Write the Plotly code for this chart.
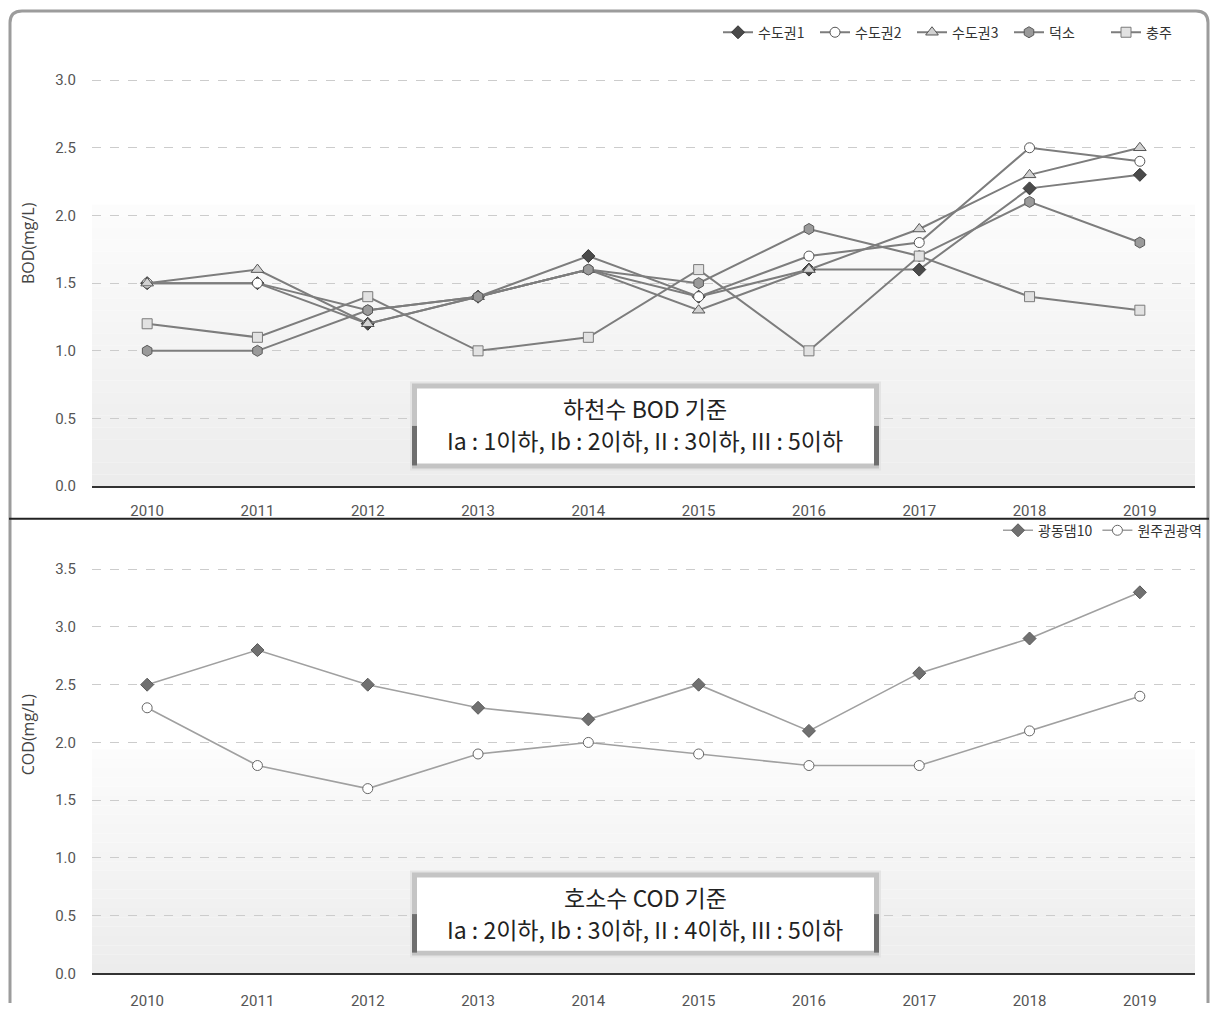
import plotly.graph_objects as go

# ---- data -------------------------------------------------------------
years = [2010, 2011, 2012, 2013, 2014, 2015, 2016, 2017, 2018, 2019]

# river water BOD (mg/L)
bod_sudo1 = [1.5, 1.5, 1.2, 1.4, 1.7, 1.4, 1.6, 1.6, 2.2, 2.3]
bod_sudo2 = [1.5, 1.5, 1.3, 1.4, 1.6, 1.4, 1.7, 1.8, 2.5, 2.4]
bod_sudo3 = [1.5, 1.6, 1.2, 1.4, 1.6, 1.3, 1.6, 1.9, 2.3, 2.5]
bod_deokso = [1.0, 1.0, 1.3, 1.4, 1.6, 1.5, 1.9, 1.7, 2.1, 1.8]
bod_chungju = [1.2, 1.1, 1.4, 1.0, 1.1, 1.6, 1.0, 1.7, 1.4, 1.3]

# lake water COD (mg/L)
cod_gwangdong = [2.5, 2.8, 2.5, 2.3, 2.2, 2.5, 2.1, 2.6, 2.9, 3.3]
cod_wonju = [2.3, 1.8, 1.6, 1.9, 2.0, 1.9, 1.8, 1.8, 2.1, 2.4]

bod_ticks = [0.0, 0.5, 1.0, 1.5, 2.0, 2.5, 3.0]
cod_ticks = [0.0, 0.5, 1.0, 1.5, 2.0, 2.5, 3.0, 3.5]

# ---- page geometry (pixels -> paper) ----------------------------------
W, H = 1214, 1014


def px(x):
    return x / W


def py(y):
    return 1 - y / H


FONT = "Roboto, Noto Sans CJK KR, sans-serif"
KFONT = "Noto Sans CJK KR, sans-serif"
LINE = "#7d7d7d"

fig = go.Figure()


def add_series(x, y, name, symbol, fill, outline, xa, ya, legend, lcolor, lwidth, size=10):
    fig.add_trace(go.Scatter(
        x=x, y=y, name=name, mode="lines+markers",
        xaxis=xa, yaxis=ya, legend=legend, cliponaxis=False,
        line=dict(color=lcolor, width=lwidth),
        marker=dict(symbol=symbol, size=size, color=fill,
                    line=dict(color=outline, width=1)),
    ))


add_series(years, bod_sudo1, "수도권1", "diamond", "#4a4a4a", "#333333", "x", "y", "legend", LINE, 2)
add_series(years, bod_sudo2, "수도권2", "circle", "#ffffff", "#555555", "x", "y", "legend", LINE, 2)
add_series(years, bod_sudo3, "수도권3", "triangle-up", "#d2d2d2", "#555555", "x", "y", "legend", LINE, 2, 11)
add_series(years, bod_deokso, "덕소", "hexagon", "#9a9a9a", "#5a5a5a", "x", "y", "legend", LINE, 2, 11)
add_series(years, bod_chungju, "충주", "square", "#e2e2e2", "#7a7a7a", "x", "y", "legend", LINE, 2)

add_series(years, cod_gwangdong, "광동댐10", "diamond", "#707070", "#5a5a5a", "x2", "y2", "legend2", "#a0a0a0", 1.6)
add_series(years, cod_wonju, "원주권광역", "circle", "#ffffff", "#666666", "x2", "y2", "legend2", "#a0a0a0", 1.6)

# ---- axes ---------------------------------------------------------------
top_unit = (489 - 78) / 3.0
bot_unit = (982 - 573) / 3.5
top_max, bot_max = 3.05, 3.55

xcommon = dict(
    range=[2009.5, 2019.5], tickvals=years, ticktext=[str(v) for v in years],
    showgrid=False, zeroline=False, showline=True, linecolor="#333333", linewidth=2,
    ticks="", tickfont=dict(family=FONT, size=15, color="#555555"),
    domain=[px(92), px(1195)],
)
ycommon = dict(
    showgrid=True, gridcolor="#cccccc", griddash="dash", gridwidth=1,
    zeroline=False, showline=False, ticks="",
    tickfont=dict(family=FONT, size=15, color="#555555"),
    ticklabelstandoff=15,
)

fig.update_layout(
    xaxis=dict(**xcommon, anchor="y", ticklabelstandoff=10),
    yaxis=dict(**ycommon, anchor="x", range=[0, top_max],
               tickvals=bod_ticks, ticktext=[f"{v:.1f}" for v in bod_ticks],
               domain=[py(489), py(489 - top_max * top_unit)]),
    xaxis2=dict(**xcommon, anchor="y2", ticklabelstandoff=13),
    yaxis2=dict(**ycommon, anchor="x2", range=[0, bot_max],
                tickvals=cod_ticks, ticktext=[f"{v:.1f}" for v in cod_ticks],
                domain=[py(982), py(982 - bot_max * bot_unit)]),
)

shapes = []


# soft grey gradient band behind the lower part of each plot
def band(yref, top_val, steps=24, c_top=252, c_bot=236):
    for i in range(steps):
        y1 = top_val * (1 - i / steps)
        y0 = top_val * (1 - (i + 1) / steps)
        g = round(c_top + (c_bot - c_top) * (i + 0.5) / steps)
        shapes.append(dict(type="rect", xref=yref.replace("y", "x") + " domain", yref=yref,
                           x0=0, x1=1, y0=y0, y1=y1, layer="below",
                           fillcolor=f"rgb({g},{g},{g})", line=dict(width=0)))


band("y", 2.08)
band("y2", 1.94)

# outer rounded frame (kept inside the page)
r = 12
frame = (f"M {px(10)},{py(H - 2)} L {px(10)},{py(8 + r)} "
         f"Q {px(10)},{py(8)} {px(10 + r)},{py(8)} "
         f"L {px(1208 - r)},{py(8)} Q {px(1208)},{py(8)} {px(1208)},{py(8 + r)} "
         f"L {px(1208)},{py(H - 2)}")
shapes.append(dict(type="path", xref="paper", yref="paper", path=frame,
                   line=dict(color="#9c9c9c", width=3)))

# divider between the two panels
shapes.append(dict(type="line", xref="paper", yref="paper",
                   x0=px(9), x1=px(1209), y0=py(522), y1=py(522),
                   line=dict(color="#222222", width=2)))


# criteria boxes with a shadowed frame
def criteria_box(x0, y0, x1, y1):
    shapes.append(dict(type="rect", xref="paper", yref="paper",
                       x0=px(x0 - 2), x1=px(x1 + 2), y0=py(y0 - 2), y1=py(y1 + 2),
                       fillcolor="#e4e4e4", line=dict(width=0)))
    shapes.append(dict(type="rect", xref="paper", yref="paper",
                       x0=px(x0), x1=px(x1), y0=py(y0), y1=py(y1),
                       fillcolor="#c4c4c4", line=dict(width=0)))
    mid = (y0 + y1) / 2
    for xa, xb in ((x0, x0 + 5), (x1 - 5, x1)):
        shapes.append(dict(type="rect", xref="paper", yref="paper",
                           x0=px(xa), x1=px(xb), y0=py(mid), y1=py(y1 - 3),
                           fillcolor="#6e6e6e", line=dict(width=0)))
    shapes.append(dict(type="rect", xref="paper", yref="paper",
                       x0=px(x0 + 5), x1=px(x1 - 5), y0=py(y0 + 5), y1=py(y1 - 5),
                       fillcolor="#ffffff", line=dict(width=0)))


criteria_box(412, 385, 879, 471)
criteria_box(412, 880, 879, 964)

annotations = [
    dict(text="하천수 BOD 기준", x=px(645), y=py(410)),
    dict(text="Ia : 1이하, Ib : 2이하, II : 3이하, III : 5이하", x=px(645), y=py(442)),
    dict(text="호소수 COD 기준", x=px(645), y=py(905)),
    dict(text="Ia : 2이하, Ib : 3이하, II : 4이하, III : 5이하", x=px(645), y=py(937)),
]
for a in annotations:
    a.update(xref="paper", yref="paper", showarrow=False, xanchor="center", yanchor="middle",
             font=dict(family=KFONT, size=23, color="#222222"))

annotations += [
    dict(text="BOD(mg/L)", x=px(28), y=py(243), textangle=-90),
    dict(text="COD(mg/L)", x=px(28), y=py(740), textangle=-90),
]
for a in annotations[-2:]:
    a.update(xref="paper", yref="paper", showarrow=False, xanchor="center", yanchor="middle",
             font=dict(family="Open Sans, sans-serif", size=16, color="#444444"))

fig.update_layout(
    width=W, height=H,
    margin=dict(l=0, r=0, t=0, b=0),
    paper_bgcolor="#ffffff", plot_bgcolor="rgba(0,0,0,0)",
    shapes=shapes, annotations=annotations,
    legend=dict(orientation="h", x=px(718), xanchor="left", y=py(30), yanchor="middle",
                font=dict(family=KFONT, size=14, color="#333333"),
                bgcolor="rgba(0,0,0,0)", itemwidth=30, entrywidth=52),
    legend2=dict(orientation="h", x=px(1207), xanchor="right", y=py(534), yanchor="middle",
                 font=dict(family=KFONT, size=14, color="#333333"),
                 bgcolor="rgba(0,0,0,0)", itemwidth=30),
    showlegend=True,
)

fig.write_html("out.html")
